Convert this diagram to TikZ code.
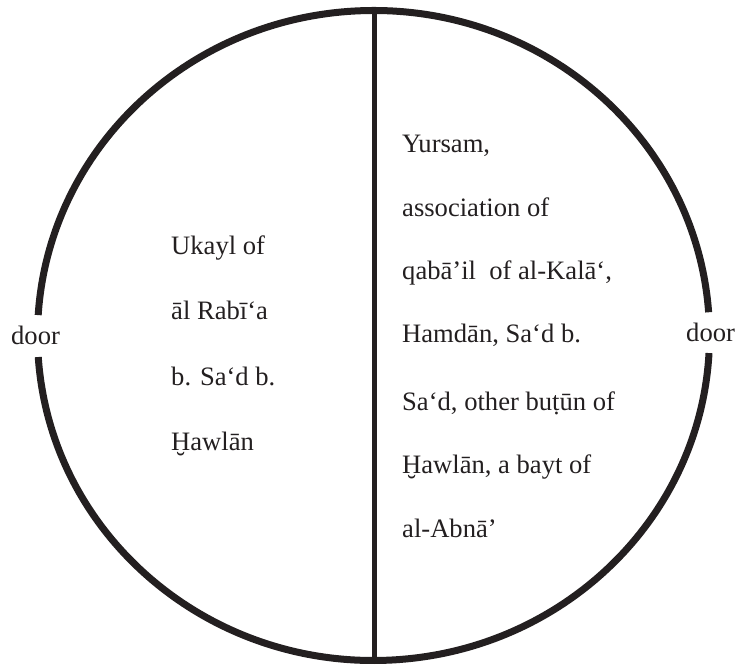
\documentclass[tikz,border=0pt]{standalone}
\usepackage{fontspec}
\setmainfont{Liberation Serif}
\definecolor{ink}{HTML}{231F20}
\begin{document}
\begin{tikzpicture}[x=1pt,y=1pt,
  rim/.style={draw=ink,line width=7pt},
  divider/.style={draw=ink,line width=5pt},
  txt/.style={font=\fontsize{26.6}{32}\selectfont, text=ink, inner sep=0pt, anchor=base west}]
\useasboundingbox (0,0) rectangle (735,664);
\coordinate (c) at (373.5,328.5);
\draw[rim] ([shift={(4.1:336pt and 325pt)}]c) arc[start angle=4.1,end angle=176.4,x radius=336pt,y radius=325pt];
\draw[rim] ([shift={(183.8:336pt and 325pt)}]c) arc[start angle=183.8,end angle=356.9,x radius=336pt,y radius=325pt];
\coordinate (top) at (374,653);
\coordinate (bot) at (374,4);
\draw[divider] (top) -- (bot);
% doors
\node[txt] (doorL) at (11,319) {door};
\node[txt] (doorR) at (686,322) {door};
% left block
\node[txt] (l1) at (171,409) {Ukayl of};
\node[txt] (l2) at (171,344) {āl Rabī‘a};
\node[txt] (l3) at (171,278) {b. Sa‘d b.};
\node[txt] (l4) at (171,214) {Ḫawlān};
% right block
\node[txt] (r1) at (402,511) {Yursam,};
\node[txt] (r2) at (402,447) {association of};
\node[txt] (r3) at (402,384) {qabā’il\ \ of al-Kalā‘,};
\node[txt] (r4) at (402,321) {Hamdān, Sa‘d b.};
\node[txt] (r5) at (402,254) {Sa‘d, other buṭūn of};
\node[txt] (r6) at (402,191) {Ḫawlān, a bayt of};
\node[txt] (r7) at (402,127) {al-Abnā’};
\end{tikzpicture}
\end{document}
